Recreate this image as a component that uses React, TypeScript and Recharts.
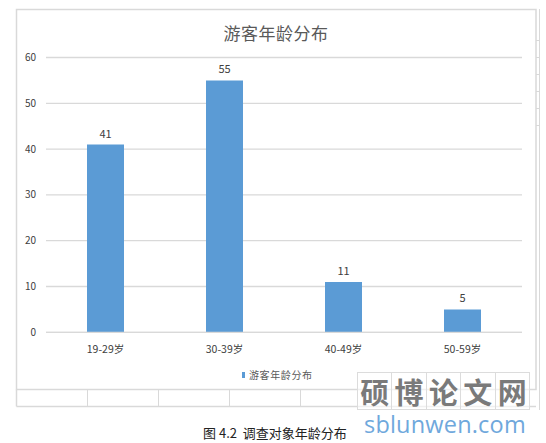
import { BarChart, Bar, XAxis, YAxis, CartesianGrid, LabelList } from "recharts"

const TITLE = "游客年龄分布"
const CAPTION = "图 4.2  调查对象年龄分布"
const SERIES_NAME = "游客年龄分布"

const categories = ["19-29岁", "30-39岁", "40-49岁", "50-59岁"]
const counts = [41, 55, 11, 5]
const yTicks = [0, 10, 20, 30, 40, 50, 60]

const watermarkChars = ["硕", "博", "论", "文", "网"]
const cellLines = [87, 158, 229, 300, 371, 442]

const BAR_COLOR = "#5B9BD5"
const GRID = "#d9d9d9"
const FONT = "'Noto Sans CJK SC', 'Noto Sans', sans-serif"

const chartData = categories.map((name, i) => ({ name, value: counts[i] }))

export default function App() {
  return (
    <div
      style={{
        position: "absolute",
        left: 0,
        top: 0,
        width: 546,
        height: 443,
        background: "#fff",
        fontFamily: FONT,
        overflow: "hidden",
      }}
    >
      {/* chart frame and the spreadsheet cells under it */}
      <svg width={546} height={443} style={{ position: "absolute", left: 0, top: 0 }}>
        <rect x={16.5} y={9.5} width={519.5} height={380} fill="none" stroke={GRID} strokeWidth={1.5} />
        <line x1={16.5} y1={389.5} x2={16.5} y2={406.5} stroke={GRID} strokeWidth={1.5} />
        <line x1={16.5} y1={406.5} x2={536} y2={406.5} stroke={GRID} strokeWidth={1.5} />
        {cellLines.map((x) => (
          <line key={x} x1={x + 0.5} y1={389.5} x2={x + 0.5} y2={406.5} stroke={GRID} strokeWidth={1} />
        ))}
        <line x1={539.5} y1={9} x2={539.5} y2={410} stroke={GRID} strokeWidth={1} />
        {[40, 57, 74, 91, 108, 125].map((y) => (
          <line key={y} x1={536} y1={y + 0.5} x2={540} y2={y + 0.5} stroke={GRID} strokeWidth={1} />
        ))}
      </svg>

      <div
        style={{
          position: "absolute",
          left: 0,
          width: 552,
          top: 20,
          textAlign: "center",
          fontSize: 17,
          color: "#595959",
          letterSpacing: 0.5,
        }}
      >
        {TITLE}
      </div>

      <div style={{ position: "absolute", left: 0, top: 0 }}>
        <BarChart
          width={546}
          height={443}
          data={chartData}
          margin={{ top: 57.5, right: 24, left: 16, bottom: 80.7 }}
        >
          <CartesianGrid vertical={false} stroke={GRID} strokeWidth={1.3} />
          <XAxis
            dataKey="name"
            height={30}
            tickLine={false}
            axisLine={{ stroke: GRID, strokeWidth: 1.3 }}
            tickMargin={7}
            tick={{ fontSize: 10.5, fill: "#404040", fontFamily: FONT }}
            interval={0}
          />
          <YAxis
            width={30}
            domain={[0, 60]}
            ticks={yTicks}
            tickLine={false}
            axisLine={false}
            tickSize={0}
            tickMargin={10}
            tick={{ fontSize: 10, fill: "#404040", fontFamily: FONT }}
          />
          <Bar dataKey="value" fill={BAR_COLOR} barSize={37} isAnimationActive={false}>
            <LabelList
              dataKey="value"
              position="top"
              offset={7}
              style={{ fontSize: 11, fill: "#404040", fontFamily: FONT }}
            />
          </Bar>
        </BarChart>
      </div>

      {/* legend */}
      <div
        style={{
          position: "absolute",
          left: 242,
          top: 367,
          display: "flex",
          alignItems: "center",
          gap: 4,
          fontSize: 10,
          color: "#595959",
          letterSpacing: 0.6,
        }}
      >
        <span style={{ display: "inline-block", width: 3, height: 6, background: BAR_COLOR }} />
        {SERIES_NAME}
      </div>

      {/* watermark */}
      <div style={{ position: "absolute", left: 357, top: 372, display: "flex" }}>
        {watermarkChars.map((c) => (
          <div
            key={c}
            style={{
              width: 33.4,
              height: 36,
              border: "1px solid #dcdcdc",
              marginRight: -1,
              display: "flex",
              alignItems: "center",
              justifyContent: "center",
              fontSize: 29,
              fontWeight: 700,
              color: "#7a7a7a",
              background: "rgba(255,255,255,0.6)",
            }}
          >
            {c}
          </div>
        ))}
      </div>
      <div
        style={{
          position: "absolute",
          left: 364,
          top: 409,
          fontSize: 23.5,
          color: "#6fa8dc",
          fontFamily: "'Open Sans', sans-serif",
          letterSpacing: 0.2,
          lineHeight: "30px",
        }}
      >
        sblunwen.com
      </div>

      <div
        style={{
          position: "absolute",
          left: 203,
          top: 423,
          fontSize: 13,
          color: "#222",
          whiteSpace: "pre",
        }}
      >
        {CAPTION}
      </div>
    </div>
  )
}
